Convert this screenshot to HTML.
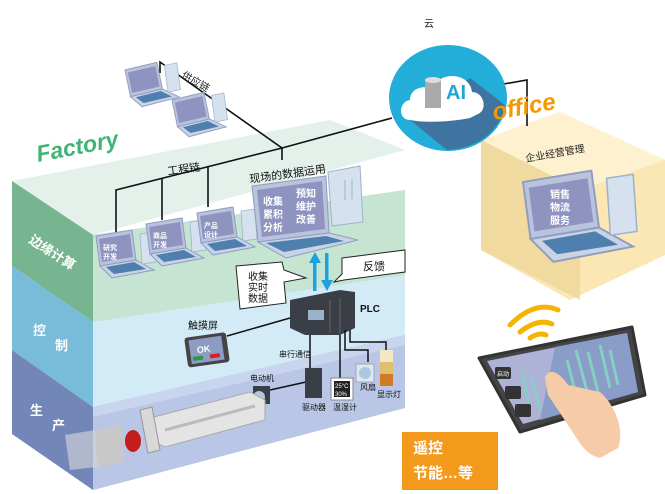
<!DOCTYPE html>
<html><head><meta charset="utf-8"><style>
html,body{margin:0;padding:0;background:#fff;}
svg{display:block;}
text{font-family:"Liberation Sans","Noto Sans CJK SC",sans-serif;}
</style></head><body>
<svg width="665" height="494" viewBox="0 0 665 494" xmlns="http://www.w3.org/2000/svg">
<defs>
<g id="lap">
  <polygon points="0,0 36,-6 40,24 4,30" fill="#b9c3dc" stroke="#8e9cc0" stroke-width="1"/>
  <polygon points="3,3 34,-2 37,21 6,26" fill="#8f93c0"/>
  <polygon points="4,30 40,24 58,34 16,42" fill="#c8d3e6" stroke="#8e9cc0" stroke-width="1"/>
  <polygon points="10,31 38,26 50,33 18,38" fill="#4f7fae"/>
  <polygon points="44,-2 58,-4 60,26 46,28" fill="#d5e1ee" stroke="#9fb2cc" stroke-width="0.8"/>
</g>
</defs>

<polygon points="12,181 330,120 405,150 93,235" fill="#e3f1ea"/>
<polygon points="93,235 405,190 405,408 93,490" fill="#c7e6d6"/>
<polygon points="93,235 405,190 405,275 93,322" fill="#c4e4d2" opacity="0.9"/>
<polygon points="93,322 405,275 405,335 93,407" fill="#d3ebf6"/>
<polygon points="93,407 405,335 405,408 93,490" fill="#b9c6e6"/>
<polygon points="93,407 405,335 405,345 93,417" fill="#c9d4ee"/>
<polygon points="12,181 93,235 93,322 12,266" fill="#76b590"/>
<polygon points="12,266 93,322 93,407 12,350" fill="#78bcd9"/>
<polygon points="12,350 93,407 93,490 12,434" fill="#7287b8"/>
<text fill="#fff" font-size="13" font-weight="bold" transform="translate(28,242) rotate(33)">边缘计算</text>
<text fill="#fff" font-size="13" font-weight="bold" x="33" y="335">控</text>
<text fill="#fff" font-size="13" font-weight="bold" x="55" y="350">制</text>
<text fill="#fff" font-size="13" font-weight="bold" x="30" y="415">生</text>
<text fill="#fff" font-size="13" font-weight="bold" x="52" y="430">产</text>

<text x="38" y="162" fill="#3db673" font-size="23" font-weight="bold" font-style="italic" transform="rotate(-11 38 162)">Factory</text>

<polygon points="481,140 560,112 665,160 665,255 570,300 481,250" fill="#fbe7b3"/>
<polygon points="481,140 560,112 665,160 580,190" fill="#fdf1d0"/>
<polygon points="481,140 580,190 580,300 481,250" fill="#efd79a" opacity="0.8"/>
<text x="526" y="162" font-size="10" fill="#222" transform="rotate(-10 526 162)">企业经营管理</text>
<use href="#lap" transform="translate(523,182) scale(1.9)"/>
<text x="550" y="198" font-size="10" font-weight="bold" fill="#fff">销售</text>
<text x="550" y="211" font-size="10" font-weight="bold" fill="#fff">物流</text>
<text x="550" y="224" font-size="10" font-weight="bold" fill="#fff">服务</text>

<g stroke="#111" stroke-width="1.6" fill="none">
<polyline points="160,73 160,62 282,148"/>
<line x1="203" y1="93" x2="203" y2="105"/>
<line x1="282" y1="148" x2="392" y2="118"/>
<line x1="282" y1="148" x2="282" y2="160"/>
<polyline points="498,85 527,80 527,126"/>
<polyline points="116,232 116,190 282,148"/>
<line x1="162" y1="178" x2="162" y2="220"/>
<line x1="208" y1="166" x2="208" y2="207"/>
</g>

<ellipse cx="448" cy="98" rx="59" ry="53" fill="#22aed8"/>
<path d="M470,78 L505,105 C500,130 480,148 447,150 L410,120 Z" fill="#3f74a0"/>
<path d="M410,120 C398,120 398,102 410,100 C410,88 425,84 432,90 C438,70 470,72 472,92 C484,92 488,110 478,114 L470,118 C450,122 425,123 410,120 Z" fill="#fff"/>
<rect x="425" y="80" width="16" height="28" fill="#aaa"/>
<ellipse cx="433" cy="80" rx="8" ry="3" fill="#ddd"/>
<text x="446" y="99" font-size="20" font-weight="bold" fill="#1ea6d8">AI</text>
<text x="424" y="27" font-size="10" fill="#222">云</text>
<text x="494" y="120" font-size="24" font-weight="bold" font-style="italic" fill="#f39800" transform="rotate(-10 494 120)">office</text>

<use href="#lap" transform="translate(125,70) scale(0.9) rotate(-4)"/>
<use href="#lap" transform="translate(172,100) scale(0.9) rotate(-4)"/>
<text x="181" y="77" font-size="10" fill="#222" transform="rotate(30 181 77)">供应链</text>

<use href="#lap" transform="translate(96,236)"/>
<use href="#lap" transform="translate(146,224)"/>
<use href="#lap" transform="translate(197,213)"/>
<text x="103" y="250" font-size="7" font-weight="bold" fill="#fff">研究</text>
<text x="103" y="259" font-size="7" font-weight="bold" fill="#fff">开发</text>
<text x="153" y="238" font-size="7" font-weight="bold" fill="#fff">商品</text>
<text x="153" y="247" font-size="7" font-weight="bold" fill="#fff">开发</text>
<text x="204" y="228" font-size="7" font-weight="bold" fill="#fff">产品</text>
<text x="204" y="237" font-size="7" font-weight="bold" fill="#fff">设计</text>
<text x="168" y="175" font-size="11" fill="#111" transform="rotate(-8 168 175)">工程链</text>
<text x="250" y="183" font-size="11" fill="#111" transform="rotate(-8 250 183)">现场的数据运用</text>

<!-- big laptop -->
<polygon points="328,172 360,166 363,222 332,226" fill="#d5e1ee" stroke="#9fb2cc"/>
<line x1="345" y1="180" x2="345" y2="200" stroke="#9fb2cc"/>
<line x1="352" y1="179" x2="352" y2="199" stroke="#9fb2cc"/>
<polygon points="252,186 326,176 329,233 258,242" fill="#b9c3dc" stroke="#8e9cc0"/>
<polygon points="257,190 322,181 325,229 262,237" fill="#8f93c0"/>
<polygon points="258,242 329,233 358,240 286,258" fill="#c8d3e6" stroke="#8e9cc0"/>
<polygon points="266,243 326,236 344,241 284,252" fill="#4f7fae"/>
<text x="263" y="205" font-size="10" font-weight="bold" fill="#fff">收集</text>
<text x="263" y="218" font-size="10" font-weight="bold" fill="#fff">累积</text>
<text x="263" y="231" font-size="10" font-weight="bold" fill="#fff">分析</text>
<text x="296" y="197" font-size="10" font-weight="bold" fill="#fff">预知</text>
<text x="296" y="210" font-size="10" font-weight="bold" fill="#fff">维护</text>
<text x="296" y="223" font-size="10" font-weight="bold" fill="#fff">改善</text>

<path d="M236,266 L282,262 L284,270 L306,278 L284,282 L286,303 L240,309 Z" fill="#fff" stroke="#222" stroke-width="1"/>
<text x="248" y="280" font-size="10" fill="#111">收集</text>
<text x="248" y="291" font-size="10" fill="#111">实时</text>
<text x="248" y="302" font-size="10" fill="#111">数据</text>
<path d="M342,258 L405,250 L405,272 L344,280 L334,282 L342,274 Z" fill="#fff" stroke="#222" stroke-width="1"/>
<text x="363" y="270" font-size="11" fill="#111">反馈</text>
<g fill="#1aa3e0">
<rect x="313" y="261" width="3.5" height="30"/><polygon points="309,263 321,263 315,252"/>
<rect x="325" y="253" width="3.5" height="30"/><polygon points="321,280 333,280 327,291"/>
</g>

<polygon points="290,300 340,290 355,292 355,328 340,335 305,335 290,328" fill="#3a3f47"/>
<rect x="308" y="310" width="16" height="10" fill="#9ab3c9"/>
<line x1="330" y1="300" x2="330" y2="333" stroke="#666"/>
<line x1="340" y1="298" x2="340" y2="333" stroke="#666"/>
<text x="360" y="312" font-size="10" font-weight="bold" fill="#111">PLC</text>

<g stroke="#111" stroke-width="1.5" fill="none">
<line x1="227" y1="336" x2="290" y2="318"/>
<line x1="310" y1="335" x2="310" y2="375"/>
<line x1="340" y1="335" x2="340" y2="378"/>
<polyline points="345,330 345,350 368,350 368,362"/>
<polyline points="350,330 350,342 386,342 386,352"/>
<line x1="270" y1="390" x2="306" y2="382"/>
</g>

<g transform="rotate(-8 206 350)">
<rect x="186" y="335" width="42" height="30" rx="3" fill="#444"/>
<rect x="190" y="338" width="33" height="24" fill="#8d9cc4"/>
<text x="197" y="352" font-size="9" font-weight="bold" fill="#fff">OK</text>
<rect x="192" y="355" width="10" height="4" fill="#2a9a3a"/>
<rect x="209" y="355" width="10" height="4" fill="#d52020"/>
</g>
<text x="188" y="329" font-size="10" fill="#111">触摸屏</text>
<text x="279" y="357" font-size="8" fill="#111">串行通信</text>

<rect x="305" y="368" width="17" height="30" fill="#3a3f47"/>
<text x="302" y="410" font-size="8" fill="#111">驱动器</text>
<rect x="331" y="378" width="22" height="22" fill="#fff" stroke="#888"/>
<rect x="334" y="381" width="16" height="16" fill="#222"/>
<text x="335" y="388" font-size="6" fill="#fff">25°C</text>
<text x="335" y="396" font-size="6" fill="#fff">30%</text>
<text x="333" y="410" font-size="8" fill="#111">温湿计</text>
<rect x="356" y="364" width="18" height="18" fill="#dfe7f2" stroke="#9ab"/>
<circle cx="365" cy="373" r="6" fill="#aac8e0"/>
<text x="360" y="390" font-size="8" fill="#111">风扇</text>
<rect x="380" y="350" width="13" height="12" fill="#f3e8c4"/>
<rect x="380" y="362" width="13" height="12" fill="#e0c070"/>
<rect x="380" y="374" width="13" height="12" fill="#d07a28"/>
<text x="377" y="397" font-size="8" fill="#111">显示灯</text>
<text x="250" y="381" font-size="8" fill="#111">电动机</text>
<rect x="253" y="386" width="17" height="18" fill="#3a3f47"/>
<circle cx="259" cy="397" r="6" fill="#b8c4dc"/>

<polygon points="150,418 250,392 265,400 265,420 165,447 150,440" fill="#e4e4e4" stroke="#aaa"/>
<polygon points="140,410 152,407 160,450 148,453" fill="#d8d8d8" stroke="#999"/>
<line x1="165" y1="430" x2="255" y2="406" stroke="#bbb" stroke-width="3"/>
<polygon points="95,430 122,425 124,462 97,467" fill="#c8c8c8"/>
<polygon points="65,435 95,430 97,467 70,470" fill="#d8d8d8" opacity="0.6"/>
<ellipse cx="133" cy="441" rx="8" ry="11" fill="#c51c1c"/>

<!-- tablet -->
<g fill="none" stroke="#f5b400" stroke-width="5" stroke-linecap="round">
<path d="M510,325 Q535,300 558,310"/>
<path d="M520,332 Q538,318 552,324"/>
<path d="M530,338 Q539,332 546,335"/>
</g>
<polygon points="479,358 632,327 645,395 520,432" fill="#444" stroke="#333" stroke-width="3" stroke-linejoin="round"/>
<polygon points="487,361 627,333 638,392 523,424" fill="#aeb2d6"/>
<polygon points="555,347 627,333 638,392 540,420" fill="#8a9cc8"/>
<g stroke="#86cfc4" stroke-width="3">
<line x1="522" y1="372" x2="530" y2="412"/><line x1="532" y1="378" x2="540" y2="410"/>
<line x1="567" y1="360" x2="577" y2="398"/><line x1="576" y1="350" x2="588" y2="395"/>
<line x1="588" y1="352" x2="598" y2="392"/><line x1="600" y1="345" x2="610" y2="388"/>
<line x1="610" y1="350" x2="618" y2="385"/>
</g>
<rect x="495" y="367" width="16" height="12" rx="2" fill="#333"/>
<rect x="505" y="386" width="16" height="13" rx="2" fill="#333"/>
<rect x="515" y="404" width="16" height="13" rx="2" fill="#333"/>
<text x="497" y="376" font-size="6" fill="#fff">启动</text>
<path d="M545,378 C548,368 558,370 568,385 L600,392 C615,405 625,430 618,448 L600,458 C585,455 578,440 570,428 L548,395 Z" fill="#f6cba8"/>

<rect x="402" y="432" width="96" height="58" fill="#f39a1c"/>
<text x="413" y="453" font-size="15" font-weight="bold" fill="#fff">遥控</text>
<text x="413" y="478" font-size="15" font-weight="bold" fill="#fff">节能…等</text>
</svg>
</body></html>
